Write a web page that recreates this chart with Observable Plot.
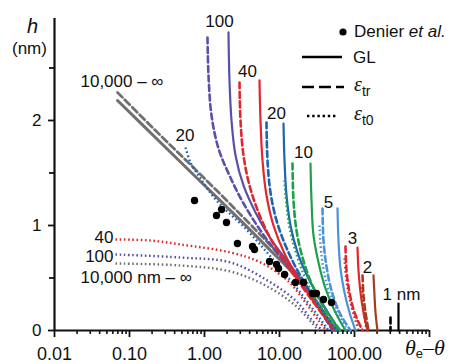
<!DOCTYPE html>
<html><head><meta charset="utf-8">
<script src="https://cdn.jsdelivr.net/npm/d3@7"></script>
<script src="https://cdn.jsdelivr.net/npm/@observablehq/plot@0.6"></script>
<style>body{margin:0;background:#fff} #chart{width:455px;height:364px}</style>
</head><body><div id="chart"></div>
<script>
// ---- data: [theta_e - theta, h (nm)] ----
const GL_inf = [[0.0692,2.19],[0.259,1.79],[0.884,1.419],[3.02,1.048],[7.59,0.762],[14.0,0.571],[25.9,0.343],[52.5,0]];
const TR_inf = [[0.0692,2.267],[0.259,1.857],[0.884,1.486],[3.02,1.105],[7.59,0.81],[14.9,0.581],[27.5,0.333],[54.1,0]];
const T0_inf = [[0.0651,0.638],[0.479,0.619],[2.22,0.562],[6.51,0.429],[16.3,0.238],[27.5,0.067],[33.1,0]];
const GL_100 = [[2.089,2.838],[2.154,2.381],[2.291,2.0],[2.591,1.667],[3.311,1.381],[4.786,1.124],[7.586,0.876],[14.02,0.619],[25.9,0.362],[55.8,0]];
const TR_100 = [[1.096,2.79],[1.131,2.429],[1.24,2.048],[1.537,1.733],[2.154,1.476],[3.311,1.21],[5.934,0.924],[12.02,0.638],[24.36,0.362],[50.89,0]];
const T0_100 = [[0.0651,0.724],[0.479,0.695],[2.22,0.648],[6.92,0.476],[16.3,0.286],[27.5,0.095],[37.4,0]];
const GL_40 = [[5.412,2.381],[5.58,2.0],[5.934,1.619],[6.709,1.286],[8.318,1.0],[11.66,0.733],[17.92,0.495],[30.2,0.257],[59.3,0]];
const TR_40 = [[2.929,2.362],[3.02,2.0],[3.311,1.667],[3.981,1.381],[5.248,1.124],[7.586,0.876],[12.79,0.619],[24.36,0.333],[54.12,0]];
const T0_40 = [[0.0651,0.867],[0.1905,0.857],[0.479,0.819],[2.22,0.743],[5.58,0.648],[12.79,0.476],[22.2,0.267],[33.1,0.095],[42.3,0]];
const GL_20 = [[11.31,1.971],[11.66,1.619],[12.4,1.286],[14.02,1.0],[17.38,0.743],[24.36,0.495],[37.44,0.257],[63.1,0]];
const TR_20 = [[6.709,1.981],[6.918,1.619],[7.586,1.314],[9.12,1.048],[12.02,0.81],[17.38,0.571],[29.29,0.305],[57.54,0]];
const T0_20 = [[0.558,1.743],[0.651,1.6],[0.884,1.448],[1.445,1.238],[3.522,0.971],[7.586,0.705],[16.34,0.419],[30.2,0.171],[45.01,0]];
const GL_10 = [[25.9,1.59],[26.72,1.238],[28.4,0.905],[33.11,0.648],[41.05,0.4],[54.12,0.19],[75.86,0]];
const TR_10 = [[14.91,1.59],[15.37,1.238],[16.86,0.952],[20.26,0.695],[26.72,0.448],[39.81,0.21],[65.06,0]];
const T0_10 = [[11.66,1.429],[12.4,1.19],[14.02,0.933],[17.92,0.667],[24.36,0.429],[37.44,0.19],[59.34,0]];
const GL_5 = [[59.34,1.162],[61.19,0.857],[65.06,0.59],[73.56,0.362],[85.77,0.171],[103.1,0]];
const TR_5 = [[37.44,1.162],[38.61,0.857],[42.33,0.61],[49.36,0.381],[63.1,0.171],[88.44,0]];
const T0_5 = [[34.1,1.0],[36.31,0.714],[42.33,0.448],[55.8,0.21],[80.66,0]];
const GL_3 = [[109.6,0.79],[113.1,0.571],[120.2,0.362],[131.8,0.171],[149.1,0]];
const TR_3 = [[75.86,0.8],[78.22,0.571],[85.77,0.362],[100,0.171],[127.9,0]];
const T0_3 = [[73.56,0.686],[78.22,0.476],[88.44,0.267],[113.1,0]];
const GL_2 = [[179.2,0.524],[184.8,0.333],[190.5,0.171],[202.6,0]];
const TR_2 = [[127.9,0.524],[131.8,0.333],[140.2,0.171],[153.7,0]];
const T0_2 = [[124.0,0.41],[131.8,0.21],[144.5,0]];
const GL_1 = [[386,0.257],[386,0]];
const TR_1 = [[302,0.124],[302,0]];

// Denier et al. measurements
const denierTheta = [0.736,1.69,1.445,1.965,2.75,4.37,4.64,7.36,9.12,9.70,11.7,16.3,20.9,27.5,31.1,38.6,49.4];
const denierH     = [1.238,1.152,1.095,1.029,0.829,0.80,0.771,0.657,0.629,0.590,0.533,0.457,0.457,0.352,0.352,0.295,0.267];

// curve labels
const labelText   = ["100","40","20","10","5","3","2","1 nm","10,000 \u2013 \u221E","20","40","100","10,000 nm \u2013 \u221E"];
const labelTheta  = [1.585,3.744,9.12,20.9,45.0,94.0,149.1,236.3,0.0222,0.411,0.0612,0.0612,0.0222];
const labelH      = [2.886,2.410,2.010,1.638,1.171,0.819,0.552,0.286,2.314,1.80,0.829,0.657,0.448];
const labelAnchor = ["middle","middle","middle","middle","middle","middle","middle","start","start","start","end","end","start"];

const xTickValues = [0.01,0.1,1,10,100,1000];
const xTickLabels = ["0.01","0.10","1.00","10.00","100.00",""];
const yTickValues = [0,1,2];
const yMinorTicks = [0.5,1.5,2.5];

// ---- styling ----
const GRAY="#707070", PURPLE="#5a50a8", RED="#e2262d", BLUE="#1b64b0", GREEN="#1e9f4a", LBLUE="#4b93d6", BROWN="#a23f1e", BLACK="#000";
const FONT = "'Liberation Sans', Arial, Helvetica, sans-serif";
const SOLID = {strokeWidth:2.2};
const DASH = {strokeWidth:2.6, strokeDasharray:"6,3.5"};
const DOT = {strokeWidth:2.4, strokeDasharray:"1.6,2.6", strokeLinecap:"butt"};

const series = [
  [GL_inf,GRAY,{strokeWidth:3}],[TR_inf,GRAY,{strokeWidth:2.8,strokeDasharray:"7,3.5"}],[T0_inf,GRAY,DOT],
  [GL_100,PURPLE,SOLID],[TR_100,PURPLE,DASH],[T0_100,PURPLE,DOT],
  [GL_40,RED,SOLID],[TR_40,RED,DASH],[T0_40,RED,DOT],
  [GL_20,BLUE,SOLID],[TR_20,BLUE,DASH],[T0_20,BLUE,DOT],
  [GL_10,GREEN,SOLID],[TR_10,GREEN,DASH],[T0_10,GREEN,DOT],
  [GL_5,LBLUE,SOLID],[TR_5,LBLUE,DASH],[T0_5,LBLUE,DOT],
  [GL_3,RED,SOLID],[TR_3,RED,DASH],[T0_3,RED,DOT],
  [GL_2,BROWN,SOLID],[TR_2,BROWN,DASH],[T0_2,BROWN,DOT],
  [GL_1,BLACK,SOLID],[TR_1,BLACK,DASH]
];

const xMinor = [];
for (const e of [-2,-1,0,1,2]) for (let m=2;m<=9;m++) xMinor.push(+(m*Math.pow(10,e)).toPrecision(3));

const dots = denierTheta.map((t,i)=>({t, h:denierH[i]}));
const labels = labelText.map((s,i)=>({s, t:labelTheta[i], h:labelH[i], a:labelAnchor[i]}));

const lineMarks = series.map(([pts,color,st]) =>
  Plot.line(pts, {x:d=>d[0], y:d=>d[1], stroke:color, curve:"catmull-rom", ...st}));

const textMarks = ["start","middle","end"].map(a =>
  Plot.text(labels.filter(d=>d.a===a), {x:"t", y:"h", text:"s", textAnchor:a, lineAnchor:"bottom", fontSize:17, fill:"#111"}));

const plot = Plot.plot({
  width:455, height:364,
  marginLeft:54, marginRight:26, marginTop:18, marginBottom:34,
  style:{fontFamily:FONT, fontSize:"17px", background:"#fff", color:"#111"},
  x:{type:"log", domain:[0.01,1000], label:null},
  y:{domain:[0,2.971], label:null},
  marks:[
    Plot.axisY(yTickValues, {tickSize:6, tickPadding:7, strokeWidth:1.8, fontSize:17, tickFormat:d=>String(d), label:null}),
    Plot.axisY(yMinorTicks, {tickSize:5, strokeWidth:1.8, tickFormat:()=>"", label:null}),
    Plot.axisX(xTickValues, {tickSize:7, tickPadding:10, strokeWidth:1.8, fontSize:18, tickFormat:d=>xTickLabels[xTickValues.indexOf(d)], label:null}),
    Plot.axisX(xMinor, {tickSize:4, strokeWidth:1.6, tickFormat:()=>"", label:null}),
    Plot.ruleX([0.01], {strokeWidth:2.2}),
    Plot.ruleY([0], {strokeWidth:2.2}),
    ...lineMarks,
    Plot.dot(dots, {x:"t", y:"h", r:3.7, fill:"#000", stroke:"none"}),
    ...textMarks
  ]
});
document.getElementById("chart").appendChild(plot);

// ---- axis titles and legend ----
const svg = d3.select(plot);
const g = svg.append("g").attr("font-family", FONT).attr("fill","#111").attr("text-anchor","start");
g.append("text").attr("x",27).attr("y",33).attr("font-size",20).attr("font-style","italic").text("h");
g.append("text").attr("x",12).attr("y",54).attr("font-size",17).text("(nm)");
const xl = g.append("text").attr("x",405).attr("y",355).attr("font-size",22).attr("font-family","'Liberation Serif', 'Times New Roman', serif");
xl.append("tspan").attr("font-style","italic").text("\u03B8");
xl.append("tspan").attr("font-size",13).attr("dy",3).attr("font-family",FONT).text("e");
xl.append("tspan").attr("dy",-3).text("\u2013");
xl.append("tspan").attr("font-style","italic").text("\u03B8");

g.append("circle").attr("cx",343).attr("cy",32).attr("r",3.6).attr("fill","#000");
const den = g.append("text").attr("x",354).attr("y",37).attr("font-size",17);
den.append("tspan").text("Denier ");
den.append("tspan").attr("font-style","italic").text("et al.");
g.append("line").attr("x1",302).attr("x2",342).attr("y1",57).attr("y2",57).attr("stroke","#000").attr("stroke-width",2.5);
g.append("text").attr("x",353).attr("y",63).attr("font-size",17).text("GL");
g.append("line").attr("x1",302).attr("x2",344).attr("y1",87).attr("y2",87).attr("stroke","#000").attr("stroke-width",2.5).attr("stroke-dasharray","12,5");
const e1 = g.append("text").attr("x",354).attr("y",91).attr("font-size",20);
e1.append("tspan").attr("font-family","'Liberation Serif', serif").attr("font-style","italic").text("\u03B5");
e1.append("tspan").attr("font-size",14).attr("dy",5).text("tr");
g.append("line").attr("x1",307).attr("x2",336).attr("y1",116).attr("y2",116).attr("stroke","#000").attr("stroke-width",2.5).attr("stroke-dasharray","2.4,2.8");
const e2 = g.append("text").attr("x",354).attr("y",120).attr("font-size",20);
e2.append("tspan").attr("font-family","'Liberation Serif', serif").attr("font-style","italic").text("\u03B5");
e2.append("tspan").attr("font-size",14).attr("dy",5).text("t0");
</script>
</body></html>
